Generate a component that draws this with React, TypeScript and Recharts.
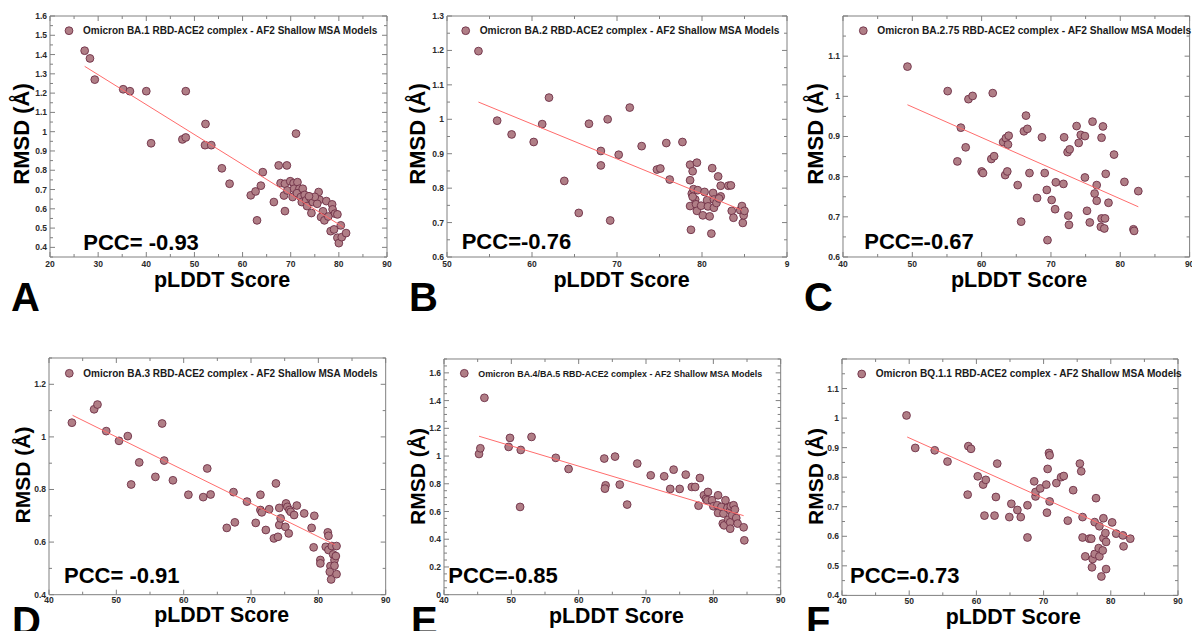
import React from 'react';
import { ScatterChart, Scatter, XAxis, YAxis } from 'recharts';

// ---------------- data ----------------
const pointsA: number[][] = [
  [27.2,1.42],[28.3,1.38],[29.3,1.27],[35.2,1.22],[36.6,1.21],[40.0,1.21],[41.0,0.94],[48.2,1.21],[47.5,0.96],[48.2,0.97],
  [52.3,1.04],[52.2,0.93],[53.5,0.93],[55.7,0.81],[57.3,0.73],[61.7,0.67],[62.7,0.69],[63.0,0.54],[63.8,0.72],[64.2,0.79],
  [66.5,0.635],[67.5,0.825],[67.9,0.733],[69.2,0.825],[68.8,0.73],[69.9,0.743],[68.8,0.588],[68.6,0.669],[69.3,0.695],[70.6,0.733],
  [71.1,0.99],[71.4,0.738],[70.7,0.704],[71.8,0.704],[70.4,0.661],[71.3,0.681],[72.5,0.704],[72.1,0.661],[72.9,0.672],[72.3,0.635],
  [73.2,0.644],[74.1,0.655],[73.4,0.614],[74.6,0.635],[74.3,0.578],[75.8,0.687],[76.0,0.647],[75.5,0.626],[77.4,0.64],[76.7,0.587],
  [76.3,0.557],[77.0,0.54],[78.6,0.623],[78.7,0.597],[79.2,0.575],[79.7,0.571],[78.3,0.484],[79.0,0.493],[79.7,0.45],[80.0,0.422],
  [80.6,0.453],[80.4,0.514],[81.5,0.474],[75.0,0.662],[73.8,0.665],[77.8,0.56],
];
const pointsB: number[][] = [
  [53.7,1.198],[55.9,0.996],[57.6,0.956],[60.2,0.934],[61.2,0.986],[62.0,1.063],[63.8,0.821],[65.5,0.728],[66.7,0.987],[68.1,0.908],
  [68.1,0.866],[68.9,1.0],[69.2,0.706],[70.2,0.897],[71.5,1.034],[72.9,0.922],[74.7,0.854],[75.1,0.857],[75.8,0.931],[76.2,0.825],
  [77.7,0.934],[78.6,0.868],[79.4,0.874],[78.9,0.849],[78.6,0.823],[78.6,0.748],[78.7,0.679],[78.8,0.784],[79.0,0.797],[79.2,0.767],
  [79.5,0.794],[79.3,0.753],[79.4,0.734],[79.9,0.749],[80.1,0.721],[80.3,0.789],[80.6,0.765],[80.7,0.747],[80.9,0.718],[81.1,0.668],
  [81.2,0.858],[81.3,0.786],[81.4,0.767],[81.4,0.743],[81.7,0.757],[81.9,0.834],[82.2,0.776],[82.2,0.807],[83.1,0.807],[83.4,0.808],
  [83.5,0.734],[83.7,0.714],[84.5,0.736],[84.7,0.748],[84.8,0.699],[84.9,0.721],[85.0,0.734],[82.0,0.77],[78.9,0.775],
];
const pointsC: number[][] = [
  [49.3,1.074],[55.1,1.013],[58.1,0.993],[58.7,1.001],[61.6,1.008],[57.0,0.922],[57.7,0.873],[56.5,0.838],[60.0,0.813],[60.2,0.809],
  [61.4,0.844],[61.8,0.851],[63.1,0.886],[63.5,0.896],[63.8,0.88],[63.9,0.902],[63.4,0.804],[63.7,0.813],[65.2,0.779],[65.7,0.688],
  [66.1,0.913],[66.4,0.952],[66.6,0.919],[66.9,0.809],[68.7,0.898],[69.1,0.809],[69.4,0.767],[68.0,0.747],[69.5,0.642],[70.1,0.742],
  [70.6,0.719],[70.7,0.786],[71.8,0.782],[71.9,0.898],[72.4,0.861],[72.7,0.868],[72.5,0.703],[72.6,0.68],[73.7,0.926],[74.0,0.884],
  [74.3,0.904],[74.9,0.901],[74.9,0.798],[75.2,0.715],[75.6,0.686],[76.0,0.937],[76.3,0.758],[76.6,0.779],[76.6,0.74],[77.3,0.897],
  [77.5,0.925],[77.3,0.696],[77.8,0.696],[77.2,0.675],[77.7,0.671],[77.9,0.807],[78.3,0.735],[79.1,0.855],[80.6,0.787],[82.6,0.764],
  [81.9,0.669],[82.0,0.665],
];
const pointsD: number[][] = [
  [43.4,1.054],[46.7,1.105],[47.2,1.123],[48.5,1.022],[50.4,0.985],[51.7,1.003],[52.2,0.819],[53.4,0.903],[55.8,0.848],[56.8,1.051],
  [57.1,0.91],[58.4,0.835],[60.7,0.78],[62.9,0.771],[63.5,0.88],[64.0,0.781],[66.4,0.654],[67.4,0.79],[67.6,0.675],[69.4,0.754],
  [70.7,0.673],[71.4,0.78],[71.4,0.722],[71.6,0.713],[72.2,0.646],[72.7,0.725],[73.4,0.614],[73.7,0.823],[74.0,0.62],[74.2,0.73],
  [74.2,0.665],[74.4,0.69],[75.2,0.747],[75.1,0.658],[75.4,0.734],[75.7,0.722],[75.6,0.633],[75.9,0.715],[76.4,0.703],[76.8,0.739],
  [77.9,0.709],[79.0,0.654],[79.4,0.7],[79.3,0.58],[80.3,0.532],[80.3,0.519],[81.1,0.582],[81.4,0.637],[81.5,0.624],[81.5,0.57],
  [81.8,0.509],[81.7,0.487],[81.9,0.458],[82.0,0.585],[82.2,0.553],[82.4,0.532],[82.4,0.51],[82.6,0.547],[82.7,0.585],[82.7,0.478],
];
const pointsE: number[][] = [
  [45.2,1.015],[45.4,1.056],[46.0,1.42],[49.6,1.066],[49.8,1.131],[51.4,1.044],[51.3,0.633],[53.0,1.138],[56.6,0.987],[58.5,0.907],
  [63.8,0.982],[64.0,0.789],[63.9,0.765],[65.4,0.996],[66.1,0.794],[67.2,0.65],[68.7,0.946],[70.7,0.861],[72.7,0.854],[73.6,0.763],
  [74.1,0.902],[75.0,0.763],[75.9,0.866],[76.8,0.777],[77.3,0.777],[77.8,0.642],[78.0,0.842],[78.6,0.717],[78.9,0.691],[79.2,0.741],
  [79.1,0.681],[79.8,0.681],[80.0,0.638],[80.7,0.717],[80.6,0.645],[80.7,0.59],[81.2,0.633],[81.5,0.585],[81.4,0.513],[81.6,0.5],
  [81.8,0.681],[82.1,0.626],[82.2,0.541],[82.5,0.609],[82.6,0.638],[82.5,0.522],[82.5,0.476],[82.8,0.573],[83.0,0.645],[83.2,0.614],
  [83.4,0.553],[83.6,0.513],[84.5,0.486],[84.6,0.392],
];
const pointsF: number[][] = [
  [49.6,1.009],[50.9,0.899],[53.8,0.891],[55.7,0.853],[58.7,0.741],[58.8,0.905],[59.2,0.896],[60.2,0.803],[61.0,0.775],[61.2,0.67],
  [61.4,0.791],[62.7,0.67],[62.9,0.733],[63.1,0.846],[64.9,0.665],[65.2,0.71],[66.1,0.689],[66.6,0.665],[67.6,0.705],[67.6,0.596],
  [68.6,0.786],[68.8,0.735],[68.8,0.75],[69.5,0.762],[70.5,0.68],[70.4,0.775],[70.6,0.828],[70.8,0.882],[70.9,0.874],[70.9,0.718],
  [71.9,0.78],[72.6,0.8],[73.0,0.804],[73.6,0.653],[74.4,0.756],[75.4,0.846],[75.6,0.82],[75.8,0.665],[75.8,0.596],[76.2,0.532],
  [76.8,0.592],[77.1,0.592],[77.2,0.495],[77.3,0.523],[77.6,0.54],[77.6,0.648],[77.8,0.729],[78.2,0.56],[78.3,0.532],[78.3,0.634],
  [78.6,0.464],[78.8,0.552],[78.9,0.594],[78.9,0.661],[79.2,0.611],[79.3,0.489],[79.3,0.581],[80.2,0.647],[80.8,0.609],[81.8,0.603],
  [81.9,0.566],[82.9,0.592],
];

// regression line end points
const fitA = [[27.2,1.339],[81.0,0.504]];
const fitB = [[53.7,1.05],[84.7,0.736]];
const fitC = [[49.3,0.979],[82.6,0.725]];
const fitD = [[43.5,1.082],[82.5,0.589]];
const fitE = [[45.2,1.143],[84.5,0.57]];
const fitF = [[49.7,0.936],[82.8,0.598]];

// axis ticks & labels
const xTicksA = [20,30,40,50,60,70,80,90];
const xLabelsA = ['20','30','40','50','60','70','80','90'];
const xTicksB = [50,60,70,80,90];
const xLabelsB = ['50','60','70','80','9'];
const xTicks40 = [40,50,60,70,80,90];
const xLabels40 = ['40','50','60','70','80','90'];
const yTicksA = [0.4,0.5,0.6,0.7,0.8,0.9,1.0,1.1,1.2,1.3,1.4,1.5,1.6];
const yLabelsA = ['0.4','0.5','0.6','0.7','0.8','0.9','1','1.1','1.2','1.3','1.4','1.5','1.6'];
const yTicksB = [0.6,0.7,0.8,0.9,1.0,1.1,1.2,1.3];
const yLabelsB = ['0.6','0.7','0.8','0.9','1','1.1','1.2','1.3'];
const yTicksC = [0.6,0.7,0.8,0.9,1.0,1.1,1.2];
const yLabelsC = ['0.6','0.7','0.8','0.9','1','1.1',''];
const yTicksD = [0.4,0.6,0.8,1.0,1.2];
const yLabelsD = ['0.4','0.6','0.8','1','1.2'];
const yTicksE = [0,0.2,0.4,0.6,0.8,1.0,1.2,1.4,1.6];
const yLabelsE = ['0','0.2','0.4','0.6','0.8','1','1.2','1.4','1.6'];
const yTicksF = [0.4,0.5,0.6,0.7,0.8,0.9,1.0,1.1,1.2];
const yLabelsF = ['0.4','0.5','0.6','0.7','0.8','0.9','1','1.1',''];

// texts
const legendLabels = [
  'Omicron BA.1 RBD-ACE2 complex - AF2 Shallow MSA Models',
  'Omicron BA.2 RBD-ACE2 complex - AF2 Shallow MSA Models',
  'Omicron BA.2.75 RBD-ACE2 complex - AF2 Shallow MSA Models',
  'Omicron BA.3 RBD-ACE2 complex - AF2 Shallow MSA Models',
  'Omicron BA.4/BA.5 RBD-ACE2 complex - AF2 Shallow MSA Models',
  'Omicron BQ.1.1 RBD-ACE2 complex - AF2 Shallow MSA Models',
];
const pccLabels = ['PCC= -0.93','PCC=-0.76','PCC=-0.67','PCC= -0.91','PCC=-0.85','PCC=-0.73'];
const panelLetters = ['A','B','C','D','E','F'];
const xAxisTitle = 'pLDDT Score';
const yAxisTitle = 'RMSD (Å)';

// ---------------- styles & layout ----------------
const FONT = "'Liberation Sans', Arial, Helvetica, sans-serif";
const FRAME = '#808080';
const TICK_TEXT = '#2a2a2a';
const MARK_FILL = '#b07e86';
const MARK_STROKE = '#6e3046';
const FIT_COLOR = '#ff6b6b';

type Panel = {
  pts: number[][]; fit: number[][];
  xDomain: [number, number]; xTicks: number[]; xLabels: string[]; xSub: number;
  yDomain: [number, number]; yTicks: number[]; yLabels: string[]; ySub: number;
  plot: { l: number; t: number; r: number; b: number };
  tickDy: number;
  leg: { x: number; y: number; size: number };
  pcc: { x: number; y: number };
  xt: { x: number; y: number; size: number };
  yt: { x: number; y: number; size: number };
  letter: { x: number; y: number };
};

const panels: Panel[] = [
  { pts: pointsA, fit: fitA, xDomain: [20, 90], xTicks: xTicksA, xLabels: xLabelsA, xSub: 1,
    yDomain: [0.35, 1.6], yTicks: yTicksA, yLabels: yLabelsA, ySub: 1,
    plot: { l: 49.5, t: 15.7, r: 386.5, b: 256.7 }, tickDy: 10, leg: { x: 69, y: 30.7, size: 10 },
    pcc: { x: 83.3, y: 250 }, xt: { x: 222, y: 287, size: 21.5 }, yt: { x: 29, y: 134, size: 22 }, letter: { x: 11, y: 311 } },
  { pts: pointsB, fit: fitB, xDomain: [50, 90], xTicks: xTicksB, xLabels: xLabelsB, xSub: 1,
    yDomain: [0.6, 1.3], yTicks: yTicksB, yLabels: yLabelsB, ySub: 1,
    plot: { l: 446.7, t: 15.7, r: 786.7, b: 256.7 }, tickDy: 10, leg: { x: 465.7, y: 30.7, size: 10.2 },
    pcc: { x: 461.7, y: 249.3 }, xt: { x: 621.5, y: 287, size: 21.5 }, yt: { x: 425, y: 134, size: 22 }, letter: { x: 409, y: 311 } },
  { pts: pointsC, fit: fitC, xDomain: [40, 90], xTicks: xTicks40, xLabels: xLabels40, xSub: 1,
    yDomain: [0.6, 1.2], yTicks: yTicksC, yLabels: yLabelsC, ySub: 1,
    plot: { l: 843, t: 15.7, r: 1189.6, b: 256.7 }, tickDy: 10, leg: { x: 863.3, y: 30.7, size: 10.2 },
    pcc: { x: 864.3, y: 249.3 }, xt: { x: 1019, y: 287, size: 21.5 }, yt: { x: 822.7, y: 134, size: 22 }, letter: { x: 804, y: 311 } },
  { pts: pointsD, fit: fitD, xDomain: [40, 90], xTicks: xTicks40, xLabels: xLabels40, xSub: 1,
    yDomain: [0.4, 1.3], yTicks: yTicksD, yLabels: yLabelsD, ySub: 1,
    plot: { l: 49.3, t: 358.3, r: 386, b: 595 }, tickDy: 8.5, leg: { x: 69.3, y: 373.3, size: 10 },
    pcc: { x: 64, y: 583.3 }, xt: { x: 221.7, y: 621.5, size: 21.3 }, yt: { x: 29.5, y: 475, size: 21 }, letter: { x: 12, y: 635 } },
  { pts: pointsE, fit: fitE, xDomain: [40, 90], xTicks: xTicks40, xLabels: xLabels40, xSub: 1,
    yDomain: [0, 1.7], yTicks: yTicksE, yLabels: yLabelsE, ySub: 3,
    plot: { l: 444, t: 359.3, r: 780.7, b: 595 }, tickDy: 8.5, leg: { x: 464.3, y: 373.3, size: 8.9 },
    pcc: { x: 448.3, y: 583.3 }, xt: { x: 616.5, y: 623, size: 21.3 }, yt: { x: 425, y: 476.5, size: 21 }, letter: { x: 411, y: 635 } },
  { pts: pointsF, fit: fitF, xDomain: [40, 90], xTicks: xTicks40, xLabels: xLabels40, xSub: 1,
    yDomain: [0.4, 1.2], yTicks: yTicksF, yLabels: yLabelsF, ySub: 1,
    plot: { l: 841.7, t: 359.3, r: 1177.7, b: 595.7 }, tickDy: 8.5, leg: { x: 861.7, y: 374, size: 10.1 },
    pcc: { x: 850, y: 583.3 }, xt: { x: 1013.3, y: 623.5, size: 21.3 }, yt: { x: 823, y: 476.5, size: 21 }, letter: { x: 806, y: 635 } },
];

const PAD = { left: 46, top: 10, right: 14, bottom: 22 };
const AX = 1; // axis band thickness (Recharts does not draw zero-sized axes)
const MARGIN = { left: PAD.left - AX, top: PAD.top - AX, right: PAD.right - AX, bottom: PAD.bottom - AX };

const rnd = (v: number) => Math.round(v * 10000) / 10000;

function buildTicks(majors: number[], labels: string[], sub: number, domain: [number, number]) {
  const step = (majors[1] - majors[0]) / (sub + 1);
  const m0 = majors[0];
  const iMin = Math.ceil((domain[0] - m0) / step - 1e-6);
  const iMax = Math.floor((domain[1] - m0) / step + 1e-6);
  const ticks: number[] = [];
  for (let i = iMin; i <= iMax; i++) ticks.push(rnd(m0 + i * step));
  const map = new Map<number, string>();
  majors.forEach((m, k) => map.set(rnd(m), labels[k]));
  return { ticks, map };
}

const makeTick = (side: 'bottom' | 'top' | 'left' | 'right', map: Map<number, string>, dy = 10) => (p: any) => {
  const { x, y, payload } = p;
  const label = map.get(rnd(payload.value));
  const major = label !== undefined;
  const len = major ? 5 : 3;
  let x2 = x, y2 = y;
  if (side === 'bottom') y2 = y - len;
  if (side === 'top') y2 = y + len;
  if (side === 'left') x2 = x + len;
  if (side === 'right') x2 = x - len;
  let text: React.ReactNode = null;
  if (label) {
    if (side === 'bottom')
      text = <text x={x} y={y + dy} textAnchor="middle" fontSize={8.5} fontWeight="bold" fontFamily={FONT} fill={TICK_TEXT}>{label}</text>;
    if (side === 'left')
      text = <text x={x - 3} y={y + 3} textAnchor="end" fontSize={8.5} fontWeight="bold" fontFamily={FONT} fill={TICK_TEXT}>{label}</text>;
  }
  return (
    <g>
      <line x1={x} y1={y} x2={x2} y2={y2} stroke={FRAME} strokeWidth={1} />
      {text}
    </g>
  );
};

const Dot = (p: any) => (
  <circle cx={p.cx} cy={p.cy} r={3.9} fill={MARK_FILL} stroke={MARK_STROKE} strokeWidth={0.9} />
);
const NoDot = () => <g />;

function PanelChart({ panel }: { panel: Panel }) {
  const { plot } = panel;
  const width = plot.r - plot.l + PAD.left + PAD.right;
  const height = plot.b - plot.t + PAD.top + PAD.bottom;
  const xt = buildTicks(panel.xTicks, panel.xLabels, panel.xSub, panel.xDomain);
  const yt = buildTicks(panel.yTicks, panel.yLabels, panel.ySub, panel.yDomain);
  const data = panel.pts.map(([x, y]) => ({ x, y }));
  const fit = panel.fit.map(([x, y]) => ({ x, y }));
  const axisLine = { stroke: FRAME, strokeWidth: 1 };
  return (
    <div style={{ position: 'absolute', left: plot.l - PAD.left, top: plot.t - PAD.top, width, height }}>
      <ScatterChart width={width} height={height} margin={MARGIN}>
        <XAxis xAxisId="b" type="number" dataKey="x" orientation="bottom" domain={panel.xDomain} allowDataOverflow
          ticks={xt.ticks} interval={0} height={AX} tickSize={0} tickMargin={0} tickLine={false}
          axisLine={axisLine} tick={makeTick('bottom', xt.map, panel.tickDy)} />
        <XAxis xAxisId="t" type="number" dataKey="x" orientation="top" domain={panel.xDomain} allowDataOverflow
          ticks={xt.ticks} interval={0} height={AX} tickSize={0} tickMargin={0} tickLine={false}
          axisLine={axisLine} tick={makeTick('top', xt.map)} />
        <YAxis yAxisId="l" type="number" dataKey="y" orientation="left" domain={panel.yDomain} allowDataOverflow
          ticks={yt.ticks} interval={0} width={AX} tickSize={0} tickMargin={0} tickLine={false}
          axisLine={axisLine} tick={makeTick('left', yt.map)} />
        <YAxis yAxisId="r" type="number" dataKey="y" orientation="right" domain={panel.yDomain} allowDataOverflow
          ticks={yt.ticks} interval={0} width={AX} tickSize={0} tickMargin={0} tickLine={false}
          axisLine={axisLine} tick={makeTick('right', yt.map)} />
        <Scatter data={data} xAxisId="b" yAxisId="l" shape={Dot} isAnimationActive={false} />
        <Scatter data={fit} xAxisId="b" yAxisId="l" shape={NoDot}
          line={{ stroke: FIT_COLOR, strokeWidth: 1 }} isAnimationActive={false} />
      </ScatterChart>
    </div>
  );
}

function Overlay() {
  return (
    <svg width={1192} height={631} style={{ position: 'absolute', left: 0, top: 0, pointerEvents: 'none' }}>
      {panels.map((p, i) => (
        <g key={i} fontFamily={FONT} fontWeight="bold" fill="#000">
          <circle cx={p.leg.x} cy={p.leg.y} r={3.9} fill={MARK_FILL} stroke={MARK_STROKE} strokeWidth={0.9} />
          <text x={p.leg.x + 14} y={p.leg.y + 3.4} fontSize={p.leg.size} fill="#1a1a1a">{legendLabels[i]}</text>
          <text x={p.pcc.x} y={p.pcc.y} fontSize={22}>{pccLabels[i]}</text>
          <text x={p.xt.x} y={p.xt.y} fontSize={p.xt.size} textAnchor="middle">{xAxisTitle}</text>
          <text transform={`translate(${p.yt.x},${p.yt.y}) rotate(-90)`} fontSize={p.yt.size} textAnchor="middle">{yAxisTitle}</text>
          <text x={p.letter.x} y={p.letter.y} fontSize={40}>{panelLetters[i]}</text>
        </g>
      ))}
    </svg>
  );
}

export default function App() {
  return (
    <div style={{ position: 'absolute', left: 0, top: 0, width: 1192, height: 631, overflow: 'hidden', background: '#fff' }}>
      {panels.map((p, i) => <PanelChart key={i} panel={p} />)}
      <Overlay />
    </div>
  );
}
